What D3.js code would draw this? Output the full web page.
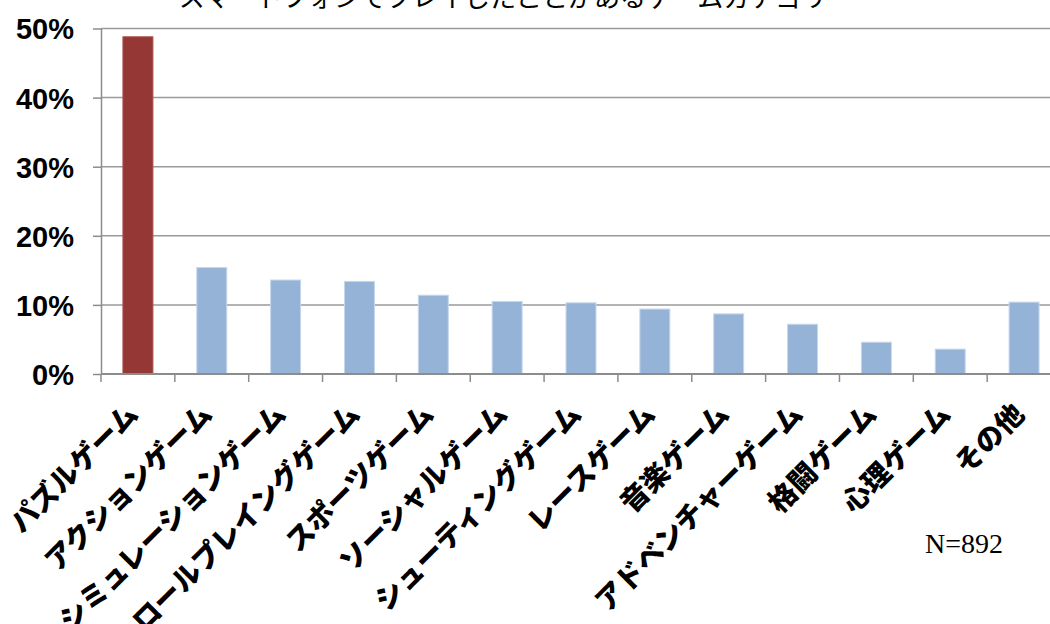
<!DOCTYPE html>
<html><head><meta charset="utf-8">
<script src="https://cdn.jsdelivr.net/npm/d3@7"></script>
<style>body{margin:0;background:#fff;overflow:hidden}svg{display:block}</style>
</head><body>
<svg id="c" width="1050" height="624"></svg>
<script>
const title = "スマートフォンでプレイしたことがあるゲームカテゴリー";
const categories = ["パズルゲーム","アクションゲーム","シミュレーションゲーム","ロールプレイングゲーム","スポーツゲーム","ソーシャルゲーム","シューティングゲーム","レースゲーム","音楽ゲーム","アドベンチャーゲーム","格闘ゲーム","心理ゲーム","その他"];
const values = [48.8,15.4,13.6,13.4,11.4,10.5,10.3,9.4,8.7,7.2,4.6,3.6,10.4];
const highlight = ["パズルゲーム"];
const yTicks = [0,10,20,30,40,50];
const note = "N=892";

const svg = d3.select("#c");
const x0 = 101, x1 = 1061, yBase = 374, yTop = 28.5;
const x = d3.scaleBand().domain(categories).range([x0,x1]).paddingInner(0.594).paddingOuter(0.297);
const y = d3.scaleLinear().domain([0,50]).range([yBase,yTop]);

// title (clipped at the top, as in the reference)
svg.append("text").attr("x",516).attr("y",7).attr("text-anchor","middle")
  .style("font-family","'Noto Sans CJK JP'").style("font-size","26px").attr("fill","#000").text(title);

// gridlines
svg.append("g").selectAll("line").data(yTicks.filter(d=>d>0)).join("line")
  .attr("x1",x0).attr("x2",1050).attr("y1",d=>y(d)).attr("y2",d=>y(d))
  .attr("stroke","#9a9a9a").attr("stroke-width",1.5);

// bars
svg.append("g").selectAll("rect").data(categories).join("rect")
  .attr("x",d=>x(d)).attr("width",x.bandwidth())
  .attr("y",(d,i)=>y(values[i])).attr("height",(d,i)=>yBase-y(values[i]))
  .attr("fill",d=>highlight.includes(d)?"#953735":"#95b3d7")
  .attr("stroke",d=>highlight.includes(d)?"#a8504e":"#c6d7ec").attr("stroke-width",1);

// y axis
const ya = svg.append("g").attr("transform",`translate(${x0},0)`)
  .call(d3.axisLeft(y).tickValues(yTicks).tickFormat(d=>d+"%").tickSize(8).tickSizeOuter(0));
ya.select(".domain").attr("stroke","#8c8c8c").attr("stroke-width",1.5);
ya.selectAll(".tick line").attr("stroke","#8c8c8c").attr("stroke-width",1.5);
ya.selectAll(".tick text").attr("x",-27).attr("dy","0.36em")
  .style("font-family","'Liberation Sans',Arial").style("font-weight","bold").style("font-size","29px").attr("fill","#000");

// x axis line and ticks at band boundaries
const step = x.step();
svg.append("line").attr("x1",x0).attr("x2",1050).attr("y1",yBase).attr("y2",yBase)
  .attr("stroke","#8c8c8c").attr("stroke-width",2);
const bounds = d3.range(categories.length+1).map(i=>x0+i*step);
svg.append("g").selectAll("line").data(bounds).join("line")
  .attr("x1",d=>d).attr("x2",d=>d).attr("y1",yBase).attr("y2",yBase+8)
  .attr("stroke","#8c8c8c").attr("stroke-width",1.5);

// x labels
svg.append("g").selectAll("text").data(categories).join("text")
  .attr("transform",d=>`translate(${x(d)+x.bandwidth()/2+2},${yBase+42}) rotate(-45)`)
  .attr("text-anchor","end")
  .style("font-family","'Noto Sans CJK JP'").style("font-weight","900").style("font-size","28px").attr("fill","#000")
  .text(d=>d);

svg.append("text").attr("x",925).attr("y",553)
  .style("font-family","'Liberation Serif','Times New Roman'").style("font-size","28px").attr("fill","#000").text(note);
</script>
</body></html>
